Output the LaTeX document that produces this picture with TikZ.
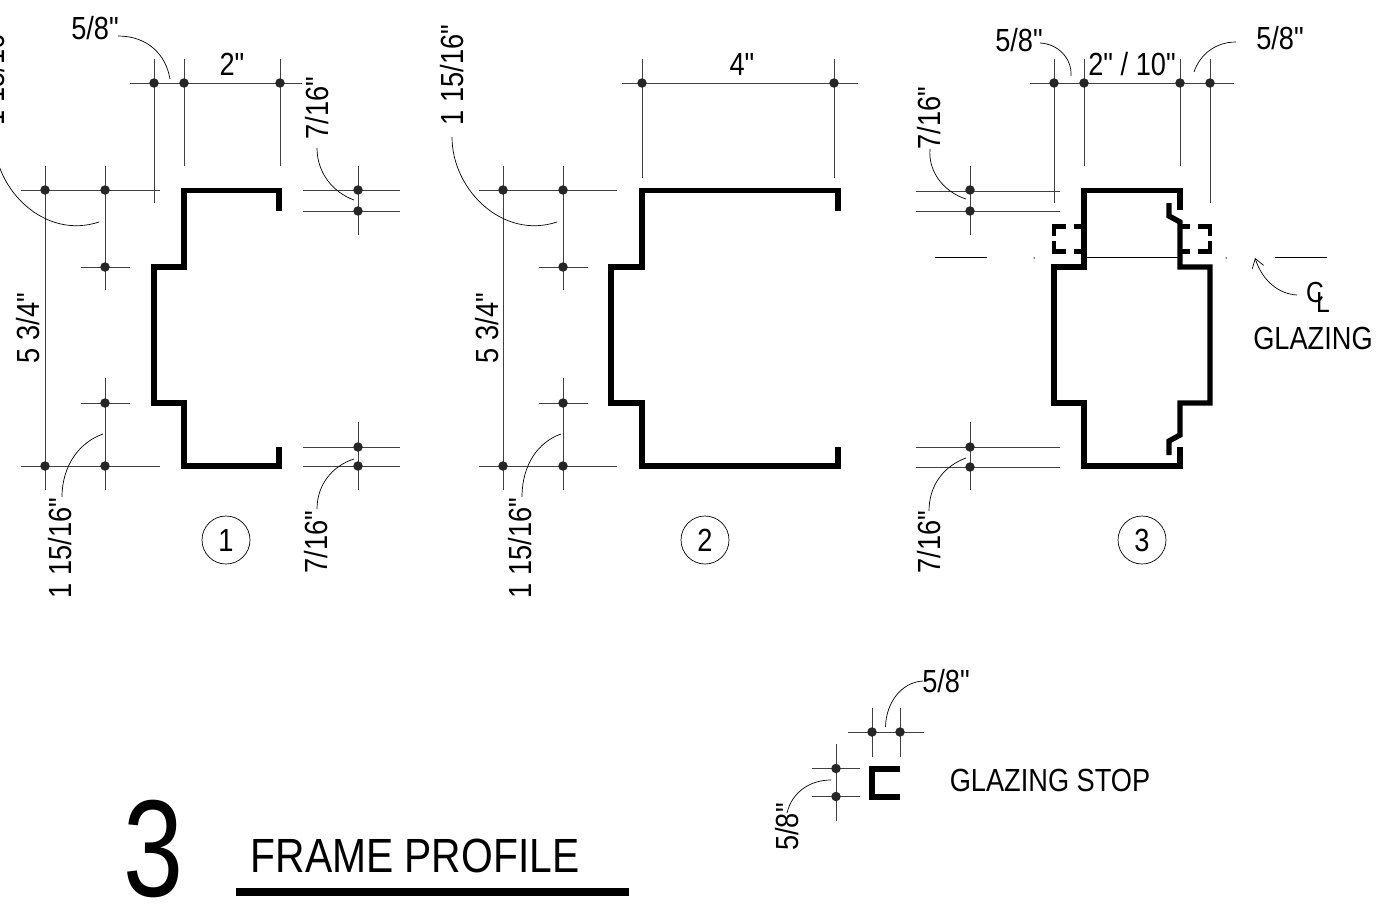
\documentclass[tikz,border=0pt]{standalone}
\usepackage{fontspec}
\setmainfont[FakeStretch=0.85,Ligatures=TeXOff]{Liberation Sans}
\usetikzlibrary{arrows.meta,positioning}
\tikzstyle{dimline}=[draw=black!75,line width=0.9pt]
\tikzstyle{leader}=[draw=black,line width=0.7pt]
\tikzstyle{profile}=[draw=black,line width=5.4pt,line join=miter,line cap=butt]
\tikzstyle{stopline}=[profile,line width=4.8pt]
\tikzstyle{tick}=[circle,fill=black!85,inner sep=0pt,minimum size=9.5pt]
\tikzstyle{speck}=[circle,fill=black,inner sep=0pt,minimum size=1.5pt]
\tikzstyle{dimtext}=[inner sep=0pt,font=\fontsize{32}{32}\selectfont]
\tikzstyle{vdimtext}=[dimtext,rotate=90]
\tikzstyle{cltext}=[inner sep=0pt,font=\fontsize{29}{29}\selectfont]
\tikzstyle{balloon}=[circle,draw=black,line width=0.7pt,minimum size=48pt,inner sep=0pt,font=\fontsize{32}{32}\selectfont]

\begin{document}
\begin{tikzpicture}[x=1pt,y=-1pt]
    \useasboundingbox (0,0) rectangle (1383,923);

    % frame 1
    \draw[dimline] (130,83) -- (302,83);
    \foreach \x/\a/\b in {154/59/203,184/59/166,280/59/166,45/166/490,105/166/290,105/378/490,358/166/235,358/422/490}
      \draw[dimline] (\x,\a) -- (\x,\b);
    \foreach \y/\a/\b in {190/21/160,267/81/130,403/81/130,466/21/160,190/303/400,211/303/400,447/303/400,466/303/400}
      \draw[dimline] (\a,\y) -- (\b,\y);
    \foreach \n/\x/\y in {fa/154/83,fb/184/83,fc/280/83,fd/45/190,fe/105/190,ff/105/267,fg/105/403,fh/45/466,fi/105/466,fj/358/190,fk/358/211,fl/358/447,fm/358/466}
      \node[tick] (\n) at (\x,\y) {};
    \draw[profile] (279,211) -- (279,190.5) -- (184,190.5) -- (184,267) -- (154,267) -- (154,403) -- (184,403) -- (184,466) -- (279,466) -- (279,447);
    \node[dimtext] (width1) at (232,64) {2"};
    \node[dimtext] (gap1) at (95,28) {5/8"};
    \node[vdimtext] (height1) at (28,328) {5 3/4"};
    \node[vdimtext] (topleg1) at (-7,75) {1 15/16"};
    \node[vdimtext] (botleg1) at (60,548) {1 15/16"};
    \node[vdimtext] (toplip1) at (317,108) {7/16"};
    \node[vdimtext] (botlip1) at (316,542) {7/16"};
    \node[balloon] (num1) at (226,540) {1};
    \draw[leader] (118,36) .. controls (148,36) and (166,55) .. (170,79);
    \draw[leader] (-6,137) .. controls (-6,190) and (45,240) .. (99,222);
    \draw[leader] (103,434) .. controls (80,442) and (62,465) .. (62,497);
    \draw[leader] (317,148) .. controls (317,172) and (332,192) .. (354,200);
    \draw[leader] (354,459) .. controls (332,466) and (317,485) .. (317,509);

    % frame 2
    \draw[dimline] (622,83) -- (858,83);
    \foreach \x/\a/\b in {642/59/178,834/59/178,503/166/490,563/166/290,563/378/490}
      \draw[dimline] (\x,\a) -- (\x,\b);
    \foreach \y/\a/\b in {190/479/617,267/539/588,403/539/588,466/479/617}
      \draw[dimline] (\a,\y) -- (\b,\y);
    \foreach \n/\x/\y in {sa/642/83,sb/834/83,sc/503/190,sd/563/190,se/563/267,sf/563/403,sg/503/466,sh/563/466}
      \node[tick] (\n) at (\x,\y) {};
    \draw[profile] (838,211) -- (838,190.5) -- (642,190.5) -- (642,267) -- (611,267) -- (611,403) -- (642,403) -- (642,466) -- (838,466) -- (838,447);
    \node[dimtext] (width2) at (742,64) {4"};
    \node[vdimtext] (height2) at (487,328) {5 3/4"};
    \node[vdimtext] (topleg2) at (452,75) {1 15/16"};
    \node[vdimtext] (botleg2) at (520,548) {1 15/16"};
    \node[balloon] (num2) at (705,540) {2};
    \draw[leader] (452,137) .. controls (452,190) and (503,240) .. (557,222);
    \draw[leader] (561,434) .. controls (538,442) and (522,465) .. (522,497);

    % frame 3
    \draw[dimline] (1030,83) -- (1234,83);
    \foreach \x/\a/\b in {1054/59/203,1084/59/166,1180/59/166,1210/59/203,970/166/235,970/422/490}
      \draw[dimline] (\x,\a) -- (\x,\b);
    \foreach \y/\a/\b in {191/916/1060,211/916/1060,447/916/1060,467/916/1060}
      \draw[dimline] (\a,\y) -- (\b,\y);
    \foreach \n/\x/\y in {ta/1054/83,tb/1084/83,tc/1180/83,td/1210/83,te/970/190,tf/970/211,tg/970/447,th/970/467}
      \node[tick] (\n) at (\x,\y) {};
    \draw[leader] (935,257.5) -- (987,257.5);
    \draw[leader] (1084,257.5) -- (1180,257.5);
    \draw[leader] (1275,257.5) -- (1327,257.5);
    \node[speck] (speckl) at (1034,258) {};
    \node[speck] (speckr) at (1226,258) {};
    \draw[profile] (1180,210) -- (1180,190.5) -- (1084,190.5) -- (1084,267) -- (1054,267) -- (1054,403) -- (1084,403) -- (1084,466) -- (1180,466) -- (1180,447);
    \draw[profile] (1169,203) -- (1169,216) -- (1180,222) -- (1180,267) -- (1210,267) -- (1210,403) -- (1180,403) -- (1180,435) -- (1169,441) -- (1169,455);
    % glazing stops, broken
    \draw[stopline] (1066,226.5) -- (1054,226.5) -- (1054,236);
    \draw[stopline] (1054,241) -- (1054,251.5) -- (1066,251.5);
    \draw[stopline] (1074,226.5) -- (1084,226.5);
    \draw[stopline] (1074,251.5) -- (1084,251.5);
    \draw[stopline] (1180,226.5) -- (1190,226.5);
    \draw[stopline] (1180,251.5) -- (1190,251.5);
    \draw[stopline] (1198,226.5) -- (1210,226.5) -- (1210,236);
    \draw[stopline] (1210,241) -- (1210,251.5) -- (1198,251.5);
    \node[dimtext] (width3) at (1132,64) {2" / 10"};
    \node[dimtext] (gap3a) at (1019,40) {5/8"};
    \node[dimtext] (gap3b) at (1280,38) {5/8"};
    \node[vdimtext] (toplip3) at (929,118) {7/16"};
    \node[vdimtext] (botlip3) at (929,542) {7/16"};
    \node[balloon] (num3) at (1142,540) {3};
    \node[cltext] (clc) at (1315,293) {C};
    \node[cltext] (cll) at (1323,303) {L};
    \node[dimtext] (glazing) at (1313,338) {GLAZING};
    \draw[leader] (1040,43) .. controls (1058,44) and (1072,58) .. (1071,76);
    \draw[leader] (1236,42) .. controls (1216,42) and (1200,54) .. (1194,72);
    \draw[leader] (930,149) .. controls (928,172) and (944,192) .. (966,199);
    \draw[leader] (966,458) .. controls (944,466) and (929,485) .. (929,511);
    \draw[leader,-{Straight Barb[length=9pt,width=12pt]}] (1297,295) .. controls (1278,294) and (1262,280) .. (1255,258);

    % glazing stop
    \draw[dimline] (848,732) -- (924,732);
    \foreach \x/\a/\b in {872/708/757,900/708/757,836/744/821}
      \draw[dimline] (\x,\a) -- (\x,\b);
    \foreach \y/\a/\b in {768.5/812/860,796.5/812/860}
      \draw[dimline] (\a,\y) -- (\b,\y);
    \foreach \n/\x/\y in {ga/872/732,gb/900/732,gc/836/768.5,gd/836/796.5}
      \node[tick] (\n) at (\x,\y) {};
    \draw[profile,line width=6pt] (900,769) -- (872,769) -- (872,797) -- (900,797);
    \node[dimtext] (stopw) at (946,681) {5/8"};
    \node[vdimtext] (stoph) at (787,827) {5/8"};
    \node[dimtext] (stoplabel) at (1050,780) {GLAZING STOP};
    \draw[leader] (923,681) .. controls (902,682) and (886,702) .. (885.5,727);
    \draw[leader] (831,780) .. controls (810,780) and (792,792) .. (787,813);

    % title
    \node[inner sep=0pt,xscale=0.92,font=\fontsize{138}{138}\selectfont] (sheetnum) at (154,849) {3};
    \node[inner sep=0pt,font=\fontsize{48}{48}\selectfont] (title) at (415,856) {FRAME PROFILE};
    \coordinate (rulea) at (236,892);
    \coordinate (ruleb) at (629,892);
    \draw[draw=black,line width=8pt] (rulea) -- (ruleb);
\end{tikzpicture}
\end{document}
